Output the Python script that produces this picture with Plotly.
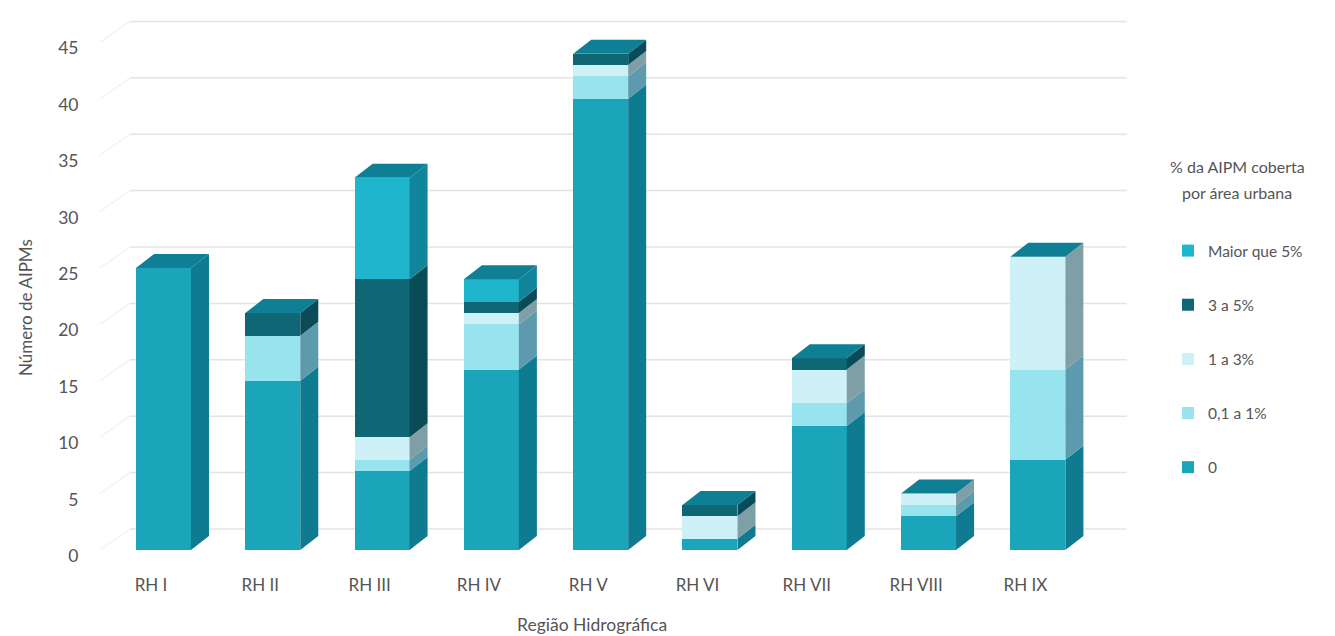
import plotly.graph_objects as go

regions = ["RH I", "RH II", "RH III", "RH IV", "RH V", "RH VI", "RH VII", "RH VIII", "RH IX"]
cat_0 = [25, 15, 7, 16, 40, 1, 11, 3, 8]
cat_01_1 = [0, 4, 1, 4, 2, 0, 2, 1, 8]
cat_1_3 = [0, 0, 2, 1, 1, 2, 3, 1, 10]
cat_3_5 = [0, 2, 14, 1, 1, 1, 1, 0, 0]
cat_5 = [0, 0, 9, 2, 0, 0, 0, 0, 0]
series_names = ["0", "0,1 a 1%", "1 a 3%", "3 a 5%", "Maior que 5%"]
series_values = [cat_0, cat_01_1, cat_1_3, cat_3_5, cat_5]
front_colors = ["#1ba5bb", "#97e3ee", "#cdf1f6", "#0f6675", "#1fb6cd"]
side_colors = ["#0f7b90", "#5e9aae", "#7f9fa6", "#0a4b58", "#11859b"]
top_color = "#0f7f96"
y_ticks = [0, 5, 10, 15, 20, 25, 30, 35, 40, 45]

FONT = "Lato"
TXT = "#555555"
BAR_W = 0.503
DX, DY = 0.165, 1.24
GX, GY = 0.274, 1.86
X0, X1 = -0.727, 8.843
Y0, Y1 = -1.33, 47.87
LAB_DX, LAB_DY = 0.114, 0.53
W, H = 1335, 636
ML, MR, MT, MB = 84, 205, 10, 71


def pap_x(p):
    return (p - ML) / (W - ML - MR)


def pap_y(p):
    return 1 - (p - MT) / (H - MT - MB)


fig = go.Figure()
xs = list(range(len(regions)))

for n, (name, vals, col) in enumerate(zip(series_names, series_values, front_colors)):
    fig.add_trace(go.Bar(x=xs, y=vals, name=name, width=BAR_W, marker=dict(color=col, line=dict(width=0)),
                         legendgroup=name, legendrank=100 - n, hoverinfo="name+y"))

# side faces
for s, (vals, col) in enumerate(zip(series_values, side_colors)):
    px, py = [], []
    for i, x in enumerate(xs):
        if vals[i] == 0:
            continue
        b = sum(series_values[k][i] for k in range(s))
        t = b + vals[i]
        r = x + BAR_W / 2
        px += [r, r + DX, r + DX, r, r, None]
        py += [b, b + DY, t + DY, t, b, None]
    fig.add_trace(go.Scatter(x=px, y=py, mode="lines", fill="toself", fillcolor=col, line=dict(width=0),
                             showlegend=False, hoverinfo="skip"))

# top faces
tx, ty = [], []
for x in xs:
    t = sum(v[x] for v in series_values)
    l, r = x - BAR_W / 2, x + BAR_W / 2
    tx += [l, l + DX, r + DX, r, l, None]
    ty += [t, t + DY, t + DY, t, t, None]
fig.add_trace(go.Scatter(x=tx, y=ty, mode="lines", fill="toself", fillcolor=top_color, line=dict(width=0),
                         showlegend=False, hoverinfo="skip"))

# carrier for the label axes
fig.add_trace(go.Scatter(x=xs, y=[sum(v[i] for v in series_values) for i in xs], xaxis="x2", yaxis="y2",
                         mode="markers", marker=dict(opacity=0), showlegend=False, hoverinfo="skip"))

shapes = []
for v in y_ticks:
    shapes.append(dict(type="line", layer="below", xref="x", yref="y", x0=X0 + GX + 0.146, x1=X1 - 0.03,
                       y0=v + GY, y1=v + GY, line=dict(color="#e6e4e2", width=1.5)))
    shapes.append(dict(type="line", layer="below", xref="x", yref="y", x0=X0 + 0.146, x1=X0 + GX + 0.146,
                       y0=v, y1=v + GY, line=dict(color="#f3f3f3", width=1.5)))

fig.update_layout(
    width=W, height=H, margin=dict(l=ML, r=MR, t=MT, b=MB),
    barmode="stack", paper_bgcolor="white", plot_bgcolor="white",
    font=dict(family=FONT, size=17, color=TXT),
    xaxis=dict(range=[X0, X1], visible=False),
    yaxis=dict(range=[Y0, Y1], visible=False),
    xaxis2=dict(range=[X0 + LAB_DX, X1 + LAB_DX], overlaying="x", side="bottom", tickvals=xs, ticktext=regions,
                showgrid=False, zeroline=False, showline=False, ticks="outside", ticklen=5,
                tickcolor="rgba(0,0,0,0)", tickfont=dict(family=FONT, size=17, color=TXT)),
    yaxis2=dict(range=[Y0 + LAB_DY, Y1 + LAB_DY], overlaying="y", side="left", tickvals=y_ticks,
                showgrid=False, zeroline=False, showline=False, ticks="outside", ticklen=1,
                tickcolor="rgba(0,0,0,0)", tickfont=dict(family=FONT, size=17.5, color=TXT)),
    shapes=shapes,
    legend=dict(x=pap_x(1168), y=pap_y(234), xanchor="left", yanchor="top",
                traceorder="grouped", tracegroupgap=31, itemclick=False, itemdoubleclick=False,
                font=dict(family=FONT, size=15.5, color=TXT), bgcolor="rgba(0,0,0,0)"),
    annotations=[
        dict(text="% da AIPM coberta", xref="paper", yref="paper", x=pap_x(1237), y=pap_y(166),
             showarrow=False, font=dict(family=FONT, size=16, color=TXT), xanchor="center", yanchor="middle"),
        dict(text="por área urbana", xref="paper", yref="paper", x=pap_x(1237), y=pap_y(192),
             showarrow=False, font=dict(family=FONT, size=16, color=TXT), xanchor="center", yanchor="middle"),
        dict(text="Número de AIPMs", xref="paper", yref="paper", x=pap_x(25), y=pap_y(308), textangle=-90,
             showarrow=False, font=dict(family=FONT, size=17, color=TXT), xanchor="center", yanchor="middle"),
        dict(text="Região Hidrográfica", xref="paper", yref="paper", x=pap_x(592), y=pap_y(624),
             showarrow=False, font=dict(family=FONT, size=17.5, color=TXT), xanchor="center", yanchor="middle"),
    ],
    showlegend=True,
)
fig.write_html("out.html", config=dict(displayModeBar=False), post_script="document.body.style.margin='0';")
